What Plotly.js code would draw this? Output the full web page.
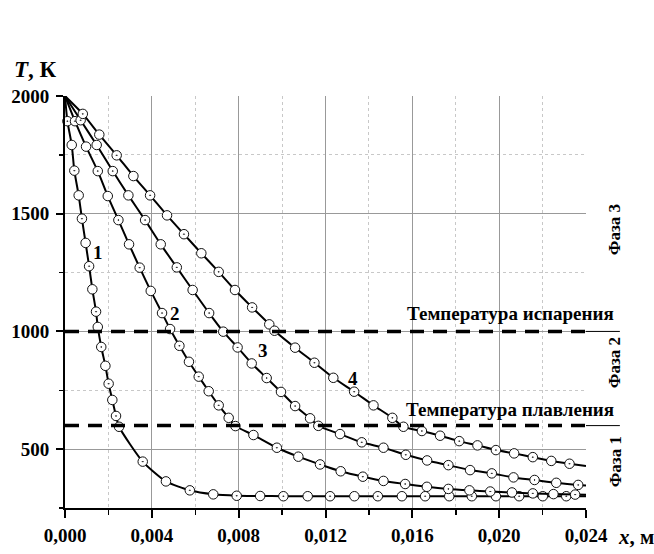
<!DOCTYPE html>
<html>
<head>
<meta charset="utf-8">
<script src="https://cdn.plot.ly/plotly-3.0.1.min.js"></script>
<style>html,body{margin:0;padding:0;background:#fff}</style>
</head>
<body>
<div id="chart" style="width:654px;height:554px"></div>
<script>
// Curve 1
const x1 = [0, 0.00011, 0.00031, 0.00043, 0.00063, 0.00078, 0.00095, 0.00111, 0.00126, 0.00143, 0.00151, 0.00167, 0.00186, 0.00201, 0.00218, 0.00235, 0.00249, 0.00358, 0.00465, 0.00575, 0.00683, 0.00791, 0.00899, 0.01006, 0.01118, 0.01221, 0.01333, 0.01441, 0.01552, 0.01659, 0.0177, 0.01874, 0.01985, 0.02092, 0.02201, 0.02309, 0.024];
const T1 = [2000, 1893, 1792, 1683, 1578, 1479, 1376, 1277, 1179, 1084, 1019, 934, 854, 778, 709, 641, 595, 447, 363, 325, 308, 302, 301, 300, 300, 300, 300, 300, 300, 300, 300, 300, 300, 300, 300, 300, 300];
// Curve 2
const x2 = [0, 0.00046, 0.00097, 0.00151, 0.00197, 0.00246, 0.00295, 0.00344, 0.00395, 0.00447, 0.00484, 0.00527, 0.00571, 0.00616, 0.00662, 0.00708, 0.00754, 0.00785, 0.00868, 0.00976, 0.01075, 0.01175, 0.0127, 0.01372, 0.01467, 0.01567, 0.01667, 0.01766, 0.01863, 0.01959, 0.02059, 0.02155, 0.0225, 0.0235, 0.024];
const T2 = [2000, 1893, 1785, 1681, 1575, 1473, 1370, 1271, 1172, 1078, 1010, 939, 871, 808, 746, 686, 633, 598, 560, 506, 468, 435, 406, 383, 365, 352, 340, 331, 325, 320, 316, 312, 309, 307, 306];
// Curve 3
const x3 = [0, 0.00072, 0.00146, 0.0022, 0.00292, 0.00369, 0.00441, 0.00515, 0.00588, 0.00664, 0.00729, 0.00795, 0.0086, 0.00929, 0.00995, 0.0106, 0.01129, 0.01167, 0.01267, 0.01367, 0.01467, 0.0157, 0.01668, 0.01766, 0.01866, 0.01966, 0.02066, 0.02163, 0.02263, 0.02364, 0.024];
const T3 = [2000, 1897, 1792, 1681, 1578, 1473, 1370, 1272, 1176, 1078, 999, 932, 864, 802, 743, 683, 631, 599, 564, 529, 506, 476, 452, 432, 411, 397, 380, 369, 357, 348, 346];
// Curve 4
const x4 = [0, 0.00082, 0.00158, 0.00238, 0.00315, 0.00392, 0.0047, 0.00548, 0.00628, 0.00708, 0.00783, 0.00862, 0.00941, 0.00965, 0.0106, 0.01149, 0.01236, 0.01332, 0.01421, 0.01508, 0.01559, 0.01644, 0.01728, 0.01816, 0.019, 0.01985, 0.02069, 0.02155, 0.0224, 0.02324, 0.024];
const T4 = [2000, 1924, 1836, 1748, 1660, 1578, 1493, 1413, 1332, 1253, 1176, 1102, 1030, 1003, 931, 867, 803, 744, 686, 633, 595, 577, 557, 534, 516, 496, 482, 466, 450, 438, 428];

const curveNames = ['1', '2', '3', '4'];
const labelX = [0.00152, 0.00507, 0.00912, 0.01327];
const labelT = [1337, 1078, 921, 802];

const xTickVals = [0, 0.004, 0.008, 0.012, 0.016, 0.020, 0.024];
const xTickText = ['0,000', '0,004', '0,008', '0,012', '0,016', '0,020', '0,024'];
const xGridVals = [0.004, 0.008, 0.012, 0.016, 0.020];
const xMinorGridVals = [0.002, 0.006, 0.010, 0.014, 0.018, 0.022];
const yTickVals = [500, 1000, 1500, 2000];
const yTickText = ['500', '1000', '1500', '2000'];
const yGridVals = [500, 1000, 1500];
const yMinorGridVals = [750, 1250, 1750];

const T_evap = 1000, T_melt = 600;
const evapText = 'Температура испарения';
const meltText = 'Температура плавления';
const phaseTexts = ['Фаза 3', 'Фаза 2', 'Фаза 1'];
const phaseT = [1431, 866, 445];

const serif = 'Liberation Serif, Times New Roman, serif';
const b = s => '<b>' + s + '</b>';
const xs = [x1, x2, x3, x4], Ts = [T1, T2, T3, T4];
const traces = [{x: [], y: [], xaxis: 'x2', yaxis: 'y2', type: 'scatter', mode: 'markers', showlegend: false}];
xs.forEach((xx, k) => {
  traces.push({x: xx, y: Ts[k], mode: 'lines', type: 'scatter', line: {color: '#000', width: 2, shape: 'spline', smoothing: 0.6}, hoverinfo: 'skip', showlegend: false, cliponaxis: false});
  const mx = xx.slice(1, -1), my = Ts[k].slice(1, -1);
  traces.push({x: mx, y: my, mode: 'markers', type: 'scatter', showlegend: false, cliponaxis: false,
    marker: {size: 9.5, color: '#fff', symbol: mx.map((_, i) => i % 2 ? 'circle' : 'circle-dot'), line: {color: '#111', width: 1}}});
});

const fnt = (s) => ({family: serif, size: s, color: '#000'});
const ann = [];
curveNames.forEach((c, i) => ann.push({x: labelX[i], y: labelT[i], text: b(c), showarrow: false, font: fnt(19)}));
ann.push({x: 0.0205, y: 1078, text: b(evapText), showarrow: false, font: fnt(19)});
ann.push({x: 0.0205, y: 668, text: b(meltText), showarrow: false, font: fnt(19)});
phaseTexts.forEach((p, i) => ann.push({xref: 'paper', x: 1.056, xanchor: 'center', yanchor: 'middle', y: phaseT[i], text: b(p), textangle: -90, showarrow: false, font: fnt(17)}));
ann.push({xref: 'paper', yref: 'paper', x: -0.0557, y: 1.0655, xanchor: 'center', yanchor: 'middle', text: b('<i>T</i>, К'), showarrow: false, font: fnt(23)});
ann.push({xref: 'paper', yref: 'paper', x: 1.096, y: -0.0704, xanchor: 'center', yanchor: 'middle', text: b('<i>x</i>, м'), showarrow: false, font: fnt(21)});

const shapes = [];
[T_evap, T_melt].forEach(t => {
  shapes.push({type: 'line', xref: 'x', yref: 'y', x0: 0, x1: 0.024, y0: t, y1: t, line: {color: '#000', width: 3.5, dash: '14px,9px'}});
  shapes.push({type: 'line', xref: 'paper', yref: 'y', x0: 1, x1: 1.065, y0: t, y1: t, line: {color: '#000', width: 1}});
});

const tf = {family: serif, size: 19, color: '#000'};
const layout = {
  width: 654, height: 554,
  margin: {l: 65, r: 68, t: 96, b: 46},
  paper_bgcolor: '#fff', plot_bgcolor: '#fff',
  showlegend: false,
  xaxis: {range: [0, 0.024], tickmode: 'array', tickvals: xTickVals, ticktext: xTickText.map(b),
    showline: true, linecolor: '#000', linewidth: 2, ticks: 'outside', ticklen: 8, tickwidth: 2, tickcolor: '#000',
    showgrid: false, zeroline: false, ticklabelstandoff: 1, tickfont: tf,
    minor: {dtick: 0.002, tick0: 0, ticks: 'outside', ticklen: 5, tickwidth: 1.5, tickcolor: '#000', showgrid: false}},
  yaxis: {range: [250, 2000], tickmode: 'array', tickvals: yTickVals, ticktext: yTickText.map(b),
    showline: true, linecolor: '#000', linewidth: 2, ticks: 'outside', ticklen: 7, tickwidth: 2, tickcolor: '#000',
    showgrid: false, zeroline: false, ticklabelstandoff: 3, tickfont: tf,
    minor: {dtick: 250, tick0: 0, ticks: 'outside', ticklen: 4, tickwidth: 1.5, tickcolor: '#000', showgrid: false}},
  xaxis2: {overlaying: 'x', anchor: 'y2', range: [0, 0.024], tickmode: 'array', tickvals: xGridVals, showticklabels: false, ticks: '',
    showgrid: true, gridcolor: '#999', gridwidth: 1, zeroline: false, showline: false,
    minor: {tickmode: 'array', tickvals: xMinorGridVals, showgrid: true, gridcolor: '#c8c8c8', griddash: 'dot', gridwidth: 1, ticks: ''}},
  yaxis2: {overlaying: 'y', anchor: 'x2', range: [250, 2000], tickmode: 'array', tickvals: yGridVals, showticklabels: false, ticks: '',
    showgrid: true, gridcolor: '#999', gridwidth: 1, zeroline: false, showline: false,
    minor: {tickmode: 'array', tickvals: yMinorGridVals, showgrid: true, gridcolor: '#c8c8c8', griddash: 'dot', gridwidth: 1, ticks: ''}},
  annotations: ann,
  shapes: shapes
};
Plotly.newPlot('chart', traces, layout, {staticPlot: true, displayModeBar: false});
</script>
</body>
</html>
